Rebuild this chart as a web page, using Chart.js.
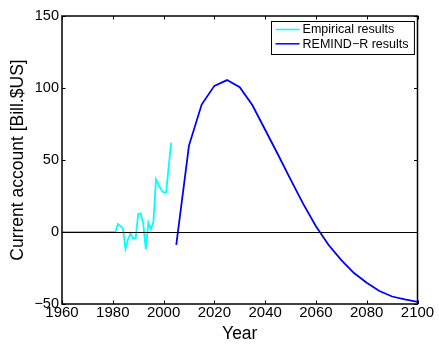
<!DOCTYPE html>
<html><head><meta charset="utf-8">
<script src="https://cdn.jsdelivr.net/npm/chart.js@4/dist/chart.umd.min.js"></script>
<style>html,body{margin:0;padding:0;background:#fff;}canvas{display:block;}</style>
</head><body>
<canvas id="c" width="439" height="345"></canvas>
<script>
// ---- data ----
const empiricalYears = [1960,1961,1962,1963,1964,1965,1966,1967,1968,1969,1970,1971,1972,1973,1974,1975,1976,1977,1978,1979,1980,1981,
  1982,1983,1984,1985,1986,1987,1988,1989,1990,1991,1992,1993,1994,1995,1996,1997,1998,1999,2000,2001,2002,2003];
const empiricalValues = [0,0,0,0,0,0,0,0,0,0,0,0,0,0,0,0,0,0,0,0,0,0,
  5.5,4,2.5,-11.5,-5,-1,-4.5,-4.5,12.5,13,6,-12,6.5,2,7,36.5,33,29.5,27.5,27.5,45,62];
const remindYears = [2005,2010,2015,2020,2025,2030,2035,2040,2045,2050,2055,2060,2065,2070,2075,2080,2085,2090,2095,2100];
const remindValues = [-9,60,88.5,101.5,105.5,100.5,88,71,54,36.5,19.5,4,-9,-19.5,-28.5,-35.3,-41,-44.8,-46.8,-48.5];
const seriesLabels = ['Empirical results','REMIND\u2212R results'];
const xTicks = [1960,1980,2000,2020,2040,2060,2080,2100];
const yTicks = [-50,0,50,100,150];
const xTitle = 'Year';
const yTitle = 'Current account [Bill.$US]';

const toPoints = (xs, ys) => xs.map((x, i) => ({x: x, y: ys[i]}));
const fmt = v => (v < 0 ? '\u2212' + Math.abs(v) : String(v));

const FONT = 'Liberation Sans, Arial, Helvetica, sans-serif';

const boxPlugin = {
  id: 'matlabBox',
  afterDatasetsDraw(chart) {
    const ctx = chart.ctx, a = chart.chartArea;
    const xs = chart.scales.x, ys = chart.scales.y;
    ctx.save();
    // zero line
    const y0 = ys.getPixelForValue(0);
    ctx.strokeStyle = '#000'; ctx.lineWidth = 1;
    ctx.beginPath(); ctx.moveTo(a.left, Math.round(y0) + 0.5); ctx.lineTo(a.right, Math.round(y0) + 0.5); ctx.stroke();
    // ticks inward
    const tl = 3.5;
    ctx.lineWidth = 1;
    ctx.beginPath();
    xTicks.forEach(v => {
      const px = Math.round(xs.getPixelForValue(v)) + 0.5;
      ctx.moveTo(px, a.bottom); ctx.lineTo(px, a.bottom - tl);
      ctx.moveTo(px, a.top); ctx.lineTo(px, a.top + tl);
    });
    yTicks.forEach(v => {
      const py = Math.round(ys.getPixelForValue(v)) + 0.5;
      ctx.moveTo(a.left, py); ctx.lineTo(a.left + tl, py);
      ctx.moveTo(a.right, py); ctx.lineTo(a.right - tl, py);
    });
    ctx.stroke();
    // box
    ctx.lineWidth = 1.5;
    ctx.strokeRect(a.left, a.top, a.right - a.left, a.bottom - a.top);
    // legend
    ctx.font = '12.5px ' + FONT;
    const ds = chart.data.datasets;
    let maxW = 0;
    ds.forEach(d => { maxW = Math.max(maxW, ctx.measureText(d.label).width); });
    const w = 33 + maxW + 4, h = 33;
    const lx = a.right - 4 - w, ly = a.top + 4.5;
    ctx.fillStyle = '#fff';
    ctx.fillRect(lx, ly, w, h);
    ctx.lineWidth = 1; ctx.strokeStyle = '#000';
    ctx.strokeRect(Math.round(lx) + 0.5, Math.round(ly) + 0.5, w, h);
    ds.forEach((d, i) => {
      const ry = ly + 9 + i * 14.3;
      ctx.strokeStyle = d.borderColor; ctx.lineWidth = 1.5;
      ctx.beginPath(); ctx.moveTo(lx + 5, ry); ctx.lineTo(lx + 29, ry); ctx.stroke();
      ctx.fillStyle = '#000'; ctx.textBaseline = 'middle'; ctx.textAlign = 'left';
      ctx.fillText(d.label, lx + 32, ry + 0.5);
    });
    ctx.restore();
  }
};

new Chart(document.getElementById('c'), {
  type: 'line',
  data: {
    datasets: [
      {label: seriesLabels[0], data: toPoints(empiricalYears, empiricalValues), borderColor: '#00FFFF', borderWidth: 1.8, pointRadius: 0, tension: 0, fill: false},
      {label: seriesLabels[1], data: toPoints(remindYears, remindValues), borderColor: '#0000FF', borderWidth: 1.8, pointRadius: 0, tension: 0, fill: false}
    ]
  },
  options: {
    responsive: false,
    animation: false,
    events: [],
    layout: {padding: {top: 16, right: 21.5, left: 0, bottom: 0}},
    plugins: {legend: {display: false}, tooltip: {enabled: false}},
    scales: {
      x: {
        type: 'linear', min: 1960, max: 2100,
        afterBuildTicks: s => { s.ticks = xTicks.map(v => ({value: v})); },
        afterFit: s => { s.height = 41; },
        grid: {display: false, drawTicks: false},
        border: {display: false},
        ticks: {color: '#000', font: {family: FONT, size: 15}, padding: 0, maxRotation: 0, autoSkip: false, callback: v => fmt(v)},
        title: {display: true, text: xTitle, color: '#000', font: {family: FONT, size: 17.5}, padding: {top: 0, bottom: 0}}
      },
      y: {
        type: 'linear', min: -50, max: 150,
        afterBuildTicks: s => { s.ticks = yTicks.map(v => ({value: v})); },
        afterFit: s => { s.width = 62; },
        grid: {display: false, drawTicks: false},
        border: {display: false},
        ticks: {color: '#000', font: {family: FONT, size: 14.5}, padding: 3, autoSkip: false, callback: v => fmt(v)},
        title: {display: true, text: yTitle, color: '#000', font: {family: FONT, size: 17.5}, padding: {top: 8, bottom: 0}}
      }
    }
  },
  plugins: [boxPlugin]
});
</script>
</body></html>
